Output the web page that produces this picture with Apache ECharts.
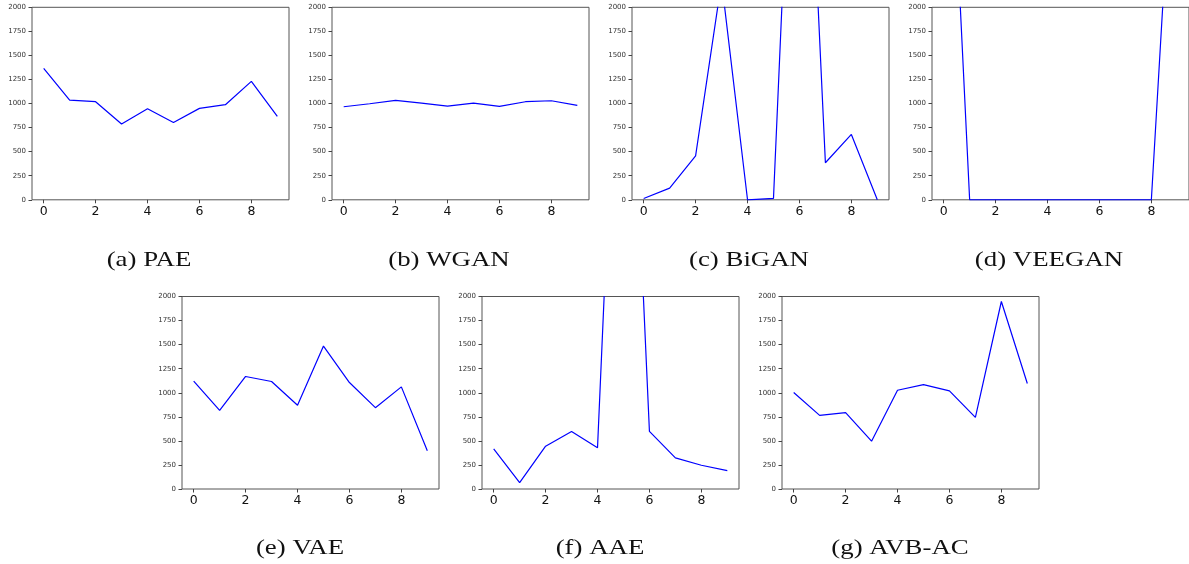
<!DOCTYPE html>
<html>
<head>
<meta charset="utf-8">
<script src="https://cdn.jsdelivr.net/npm/echarts@6/dist/echarts.min.js"></script>
<style>
  html, body { margin: 0; padding: 0; background: #fff; }
  #chart { width: 1189px; height: 564px; }
</style>
</head>
<body>
<div id="chart"></div>
<script>
// Step index along the x axis and the tick values shown on each axis
const steps = [0, 1, 2, 3, 4, 5, 6, 7, 8, 9];
const xTickValues = [0, 2, 4, 6, 8];
const yMax = 2000;
const yStep = 250;

// Panel captions
const captions = ['(a) PAE', '(b) WGAN', '(c) BiGAN', '(d) VEEGAN', '(e) VAE', '(f) AAE', '(g) AVB-AC'];

// Values per model (points above 2000 run off the top of the frame)
const pae    = [1366, 1036, 1019, 787, 946, 804, 950, 988, 1230, 867];
const wgan   = [967, 998, 1033, 1005, 974, 1005, 971, 1019, 1029, 981];
const bigan  = [14, 121, 457, 2270, 0, 14, 6170, 385, 679, 0];
const veegan = [5570, 0, 0, 0, 0, 0, 0, 0, 0, 4590];
const vae    = [1120, 817, 1169, 1117, 870, 1485, 1106, 845, 1061, 397];
const aae    = [417, 66, 445, 598, 428, 6600, 598, 323, 247, 191];
const avbac  = [1002, 765, 793, 497, 1026, 1085, 1019, 744, 1948, 1096];

const seriesValues = [pae, wgan, bigan, veegan, vae, aae, avbac];

// Plot frames: [left, top] of each panel, all panels share one size
const frameW = 257;
const frameH = 192.5;
const frames = [
  [32, 7.3], [332, 7.3], [632, 7.3], [932, 7.3],
  [182, 296.5], [482, 296.5], [782, 296.5]
];
// Caption centres
const captionPos = [
  [149, 260], [449, 260], [749, 260], [1049, 260],
  [300, 548], [600, 548], [900, 548]
];

const grids = [], xAxes = [], yAxes = [], series = [], graphics = [];

frames.forEach(([left, top], i) => {
  grids.push({
    left: left, top: top, width: frameW, height: frameH,
    show: true, borderColor: '#555', borderWidth: 1,
    backgroundColor: 'transparent', containLabel: false
  });
  xAxes.push({
    type: 'value', gridIndex: i, min: -0.45, max: 9.45,
    axisLine: { show: false, onZero: false },
    splitLine: { show: false },
    axisTick: { show: true, length: 3.5, customValues: xTickValues,
                lineStyle: { color: '#444', width: 1 } },
    axisLabel: { customValues: xTickValues, fontFamily: 'DejaVu Sans',
                 fontSize: 12.5, color: '#111', margin: 5,
                 formatter: v => String(v) }
  });
  yAxes.push({
    type: 'value', gridIndex: i, min: 0, max: yMax, interval: yStep,
    axisLine: { show: false, onZero: false },
    splitLine: { show: false },
    axisTick: { show: true, length: 3.5, lineStyle: { color: '#444', width: 1 } },
    axisLabel: { fontFamily: 'DejaVu Sans', fontSize: 7, color: '#333', margin: 6,
                 formatter: v => String(v) }
  });
  series.push({
    type: 'line', xAxisIndex: i, yAxisIndex: i,
    data: steps.map((s, k) => [s, seriesValues[i][k]]),
    showSymbol: false, symbol: 'none', clip: true, animation: false,
    lineStyle: { color: '#0000ff', width: 1.2 }
  });
  // Caption in a light serif, widened slightly
  graphics.push({
    type: 'text', x: captionPos[i][0], y: captionPos[i][1], scaleX: 1.22,
    style: { text: captions[i], font: '22px "Liberation Serif"', fill: '#111',
             textAlign: 'center', textVerticalAlign: 'middle' }
  });
});

const chart = echarts.init(document.getElementById('chart'), null, { renderer: 'canvas' });
chart.setOption({
  animation: false,
  backgroundColor: '#fff',
  grid: grids, xAxis: xAxes, yAxis: yAxes, series: series,
  graphic: graphics
});
</script>
</body>
</html>
